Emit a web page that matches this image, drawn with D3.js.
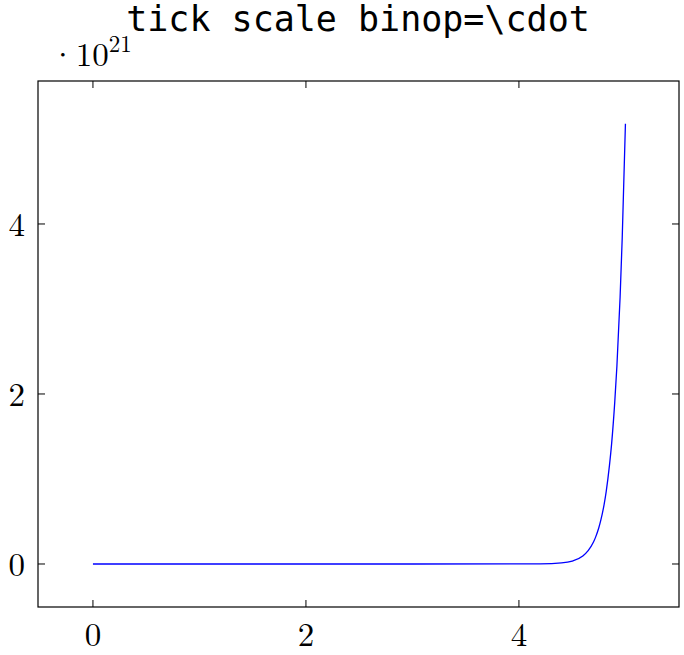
<!DOCTYPE html>
<html><head><meta charset="utf-8">
<script src="https://cdn.jsdelivr.net/npm/d3@7"></script>
<style>body{margin:0;background:#fff}</style></head>
<body><svg id="c" width="684" height="655"></svg>
<script>
const xs = [0,1,2,3,4,4.2,4.4,4.5,4.6,4.65,4.7,4.72,4.75,4.77,4.8,4.82,4.85,4.87,4.9,4.92,4.95,4.97,5.0];
const ys = [1,2.2e4,4.85e8,1.07e13,2.35e17,1.74e18,1.29e19,3.49e19,9.50e19,1.57e20,2.58e20,3.16e20,4.26e20,5.21e20,7.02e20,8.58e20,1.16e21,1.41e21,1.91e21,2.33e21,3.14e21,3.84e21,5.18e21];
const xTicks = [0,2,4];
const yTicks = [0,2,4];
const svg = d3.select("#c");
const L=38,R=679,T=81,B=607;
const x = d3.scaleLinear().domain([-0.516,5.503]).range([L,R]);
const y = d3.scaleLinear().domain([-0.506e21,5.682e21]).range([B,T]);
const tl=7;
const g=svg.append("g").attr("stroke","#000").attr("stroke-width",1);
xTicks.forEach(t=>{g.append("line").attr("x1",x(t)).attr("x2",x(t)).attr("y1",B).attr("y2",B-tl);
 g.append("line").attr("x1",x(t)).attr("x2",x(t)).attr("y1",T).attr("y2",T+tl);});
yTicks.forEach(t=>{g.append("line").attr("y1",y(t*1e21)).attr("y2",y(t*1e21)).attr("x1",L).attr("x2",L+tl);
 g.append("line").attr("y1",y(t*1e21)).attr("y2",y(t*1e21)).attr("x1",R).attr("x2",R-tl);});
svg.append("path").datum(xs.map((d,i)=>[d,ys[i]])).attr("fill","none").attr("stroke","#0000ff").attr("stroke-width",1.3)
 .attr("d",d3.line().x(d=>x(d[0])).y(d=>y(d[1])).curve(d3.curveMonotoneX));
svg.append("rect").attr("x",L).attr("y",T).attr("width",R-L).attr("height",B-T).attr("fill","none").attr("stroke","#000").attr("stroke-width",1.2);
const f="'Latin Modern Roman','DejaVu Serif',serif";
xTicks.forEach(t=>svg.append("text").attr("x",x(t)).attr("y",646).attr("text-anchor","middle").attr("font-family",f).attr("font-size",33).text(t));
yTicks.forEach(t=>svg.append("text").attr("x",25).attr("y",y(t*1e21)+12).attr("text-anchor","end").attr("font-family",f).attr("font-size",33).text(t));
const e=svg.append("text").attr("x",50).attr("y",66).attr("font-family",f).attr("font-size",33);
e.append("tspan").text("·10");
e.append("tspan").attr("font-size",23).attr("dy",-14).text("21");
svg.append("text").attr("x",358).attr("y",31).attr("text-anchor","middle").attr("font-family","'DejaVu Sans Mono',monospace").attr("font-size",35).text("tick scale binop=\\cdot");
</script></body></html>
